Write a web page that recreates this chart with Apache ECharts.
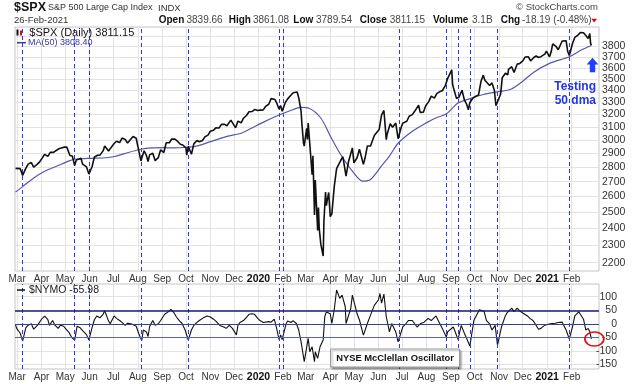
<!DOCTYPE html>
<html><head><meta charset="utf-8">
<script src="https://cdn.jsdelivr.net/npm/echarts@6/dist/echarts.min.js"></script>
<style>html,body{margin:0;padding:0;background:#fff}#c{width:638px;height:384px}</style>
</head><body><div id="c"></div>
<script>
// ---------- data ----------
const monthTicks = ['2019-03-01','2019-04-01','2019-05-01','2019-06-01','2019-07-01','2019-08-01','2019-09-01','2019-10-01','2019-11-01','2019-12-01','2020-01-01','2020-02-01','2020-03-01','2020-04-01','2020-05-01','2020-06-01','2020-07-01','2020-08-01','2020-09-01','2020-10-01','2020-11-01','2020-12-01','2021-01-01','2021-02-01'];
const priceTicks = [2200,2300,2400,2500,2600,2700,2800,2900,3000,3100,3200,3300,3400,3500,3600,3700,3800,3900];
const nymoTicks = [-150,-100,-50,0,50,100];
const signalDates = ['2019-03-08','2019-05-13','2019-05-31','2019-08-06','2019-10-04','2020-01-27','2020-02-01','2020-06-27','2020-08-26','2020-09-10','2020-09-25','2020-10-30','2021-01-29'];

const spxDates = ['2019-02-27','2019-03-01','2019-03-05','2019-03-08','2019-03-12','2019-03-15','2019-03-19','2019-03-22','2019-03-26','2019-03-29','2019-04-02','2019-04-05','2019-04-09','2019-04-12','2019-04-16','2019-04-18','2019-04-23','2019-04-26','2019-04-30','2019-05-03','2019-05-07','2019-05-10','2019-05-13','2019-05-15','2019-05-17','2019-05-21','2019-05-23','2019-05-28','2019-05-31','2019-06-04','2019-06-07','2019-06-11','2019-06-14','2019-06-18','2019-06-20','2019-06-25','2019-06-28','2019-07-02','2019-07-05','2019-07-09','2019-07-12','2019-07-16','2019-07-19','2019-07-23','2019-07-26','2019-07-30','2019-08-01','2019-08-05','2019-08-07','2019-08-09','2019-08-12','2019-08-14','2019-08-16','2019-08-20','2019-08-23','2019-08-27','2019-08-30','2019-09-03','2019-09-06','2019-09-10','2019-09-13','2019-09-17','2019-09-20','2019-09-24','2019-09-27','2019-10-01','2019-10-02','2019-10-04','2019-10-08','2019-10-11','2019-10-15','2019-10-18','2019-10-22','2019-10-25','2019-10-29','2019-11-01','2019-11-05','2019-11-08','2019-11-12','2019-11-15','2019-11-19','2019-11-22','2019-11-27','2019-11-29','2019-12-03','2019-12-06','2019-12-10','2019-12-13','2019-12-17','2019-12-20','2019-12-24','2019-12-27','2019-12-31','2020-01-03','2020-01-07','2020-01-10','2020-01-14','2020-01-17','2020-01-22','2020-01-24','2020-01-27','2020-01-29','2020-01-31','2020-02-04','2020-02-07','2020-02-11','2020-02-14','2020-02-19','2020-02-21','2020-02-24','2020-02-25','2020-02-27','2020-02-28','2020-03-02','2020-03-03','2020-03-04','2020-03-06','2020-03-09','2020-03-10','2020-03-12','2020-03-13','2020-03-16','2020-03-17','2020-03-18','2020-03-20','2020-03-23','2020-03-24','2020-03-26','2020-03-27','2020-03-30','2020-04-01','2020-04-03','2020-04-06','2020-04-09','2020-04-14','2020-04-17','2020-04-21','2020-04-24','2020-04-29','2020-05-01','2020-05-05','2020-05-08','2020-05-13','2020-05-15','2020-05-18','2020-05-22','2020-05-27','2020-05-29','2020-06-02','2020-06-05','2020-06-08','2020-06-11','2020-06-12','2020-06-16','2020-06-19','2020-06-23','2020-06-26','2020-06-30','2020-07-02','2020-07-07','2020-07-10','2020-07-14','2020-07-17','2020-07-22','2020-07-24','2020-07-28','2020-07-31','2020-08-04','2020-08-07','2020-08-11','2020-08-14','2020-08-18','2020-08-21','2020-08-25','2020-08-28','2020-09-02','2020-09-03','2020-09-04','2020-09-08','2020-09-10','2020-09-11','2020-09-15','2020-09-18','2020-09-21','2020-09-23','2020-09-25','2020-09-29','2020-10-02','2020-10-06','2020-10-09','2020-10-12','2020-10-14','2020-10-16','2020-10-20','2020-10-23','2020-10-26','2020-10-28','2020-10-30','2020-11-03','2020-11-05','2020-11-06','2020-11-09','2020-11-12','2020-11-13','2020-11-17','2020-11-20','2020-11-24','2020-11-27','2020-12-01','2020-12-04','2020-12-08','2020-12-11','2020-12-15','2020-12-18','2020-12-21','2020-12-24','2020-12-29','2020-12-31','2021-01-04','2021-01-06','2021-01-08','2021-01-12','2021-01-15','2021-01-20','2021-01-22','2021-01-25','2021-01-27','2021-01-29','2021-02-02','2021-02-05','2021-02-09','2021-02-12','2021-02-16','2021-02-19','2021-02-22','2021-02-24','2021-02-25','2021-02-26'];
const spxClose = [2792,2804,2790,2743,2792,2822,2833,2801,2818,2834,2867,2893,2878,2907,2907,2905,2934,2940,2946,2946,2884,2881,2812,2851,2860,2864,2822,2802,2752,2803,2873,2886,2887,2918,2954,2917,2942,2973,2990,2980,3014,3004,2977,3005,3026,3013,2954,2845,2883,2919,2883,2841,2889,2901,2847,2869,2926,2906,2979,2979,3007,3006,2992,2967,2962,2940,2888,2952,2893,2970,2996,2986,2996,3023,3037,3067,3075,3093,3092,3120,3120,3110,3154,3141,3093,3146,3133,3169,3193,3221,3223,3240,3231,3235,3237,3265,3283,3330,3322,3295,3244,3273,3226,3298,3328,3358,3380,3386,3338,3226,3128,2979,2954,3090,3003,3130,2972,2747,2882,2481,2711,2386,2529,2398,2305,2237,2447,2630,2541,2627,2471,2489,2664,2790,2846,2875,2737,2837,2940,2831,2868,2930,2820,2864,2954,2955,3036,3044,3081,3194,3232,3002,3041,3125,3098,3131,3009,3100,3130,3145,3185,3198,3225,3276,3216,3218,3271,3307,3351,3334,3373,3390,3397,3444,3508,3581,3455,3427,3332,3339,3341,3401,3319,3281,3237,3298,3336,3348,3361,3477,3534,3489,3484,3443,3465,3401,3271,3270,3369,3511,3509,3551,3537,3585,3610,3558,3635,3638,3663,3699,3702,3663,3695,3709,3695,3703,3727,3756,3701,3748,3825,3801,3768,3852,3841,3855,3751,3714,3826,3887,3911,3935,3933,3907,3877,3925,3829,3811];

const maDates = ['2019-02-27','2019-03-08','2019-03-22','2019-04-05','2019-04-22','2019-05-06','2019-05-13','2019-06-03','2019-06-17','2019-07-01','2019-07-15','2019-08-05','2019-08-19','2019-09-03','2019-09-16','2019-10-02','2019-10-16','2019-11-01','2019-11-18','2019-12-02','2019-12-10','2019-12-23','2020-01-08','2020-01-27','2020-02-10','2020-02-24','2020-03-05','2020-03-20','2020-04-01','2020-04-15','2020-04-30','2020-05-12','2020-05-22','2020-06-05','2020-06-15','2020-06-26','2020-07-15','2020-07-31','2020-08-14','2020-08-26','2020-09-10','2020-09-25','2020-10-12','2020-10-30','2020-11-16','2020-12-01','2020-12-15','2021-01-04','2021-01-29','2021-02-12','2021-02-26'];
const maValues = [2630,2666,2725,2772,2812,2845,2857,2864,2866,2875,2898,2930,2940,2942,2940,2945,2955,2987,3020,3040,3051,3090,3140,3195,3230,3257,3250,3171,3030,2884,2765,2704,2715,2810,2880,2975,3070,3130,3175,3203,3293,3330,3365,3388,3410,3480,3560,3640,3702,3760,3808];

const nymoDates = ['2019-02-27','2019-03-01','2019-03-05','2019-03-08','2019-03-12','2019-03-15','2019-03-19','2019-03-22','2019-03-27','2019-04-01','2019-04-05','2019-04-09','2019-04-11','2019-04-15','2019-04-18','2019-04-22','2019-04-25','2019-04-29','2019-05-02','2019-05-06','2019-05-09','2019-05-13','2019-05-16','2019-05-20','2019-05-23','2019-05-28','2019-05-31','2019-06-04','2019-06-07','2019-06-10','2019-06-14','2019-06-18','2019-06-20','2019-06-25','2019-06-27','2019-07-02','2019-07-05','2019-07-09','2019-07-12','2019-07-16','2019-07-19','2019-07-23','2019-07-26','2019-07-30','2019-08-02','2019-08-06','2019-08-08','2019-08-12','2019-08-14','2019-08-16','2019-08-20','2019-08-23','2019-08-27','2019-08-30','2019-09-04','2019-09-09','2019-09-12','2019-09-16','2019-09-19','2019-09-23','2019-09-26','2019-09-30','2019-10-04','2019-10-08','2019-10-11','2019-10-15','2019-10-18','2019-10-23','2019-10-28','2019-11-01','2019-11-05','2019-11-08','2019-11-13','2019-11-18','2019-11-21','2019-11-25','2019-11-29','2019-12-04','2019-12-06','2019-12-09','2019-12-13','2019-12-17','2019-12-20','2019-12-24','2019-12-27','2019-12-31','2020-01-03','2020-01-07','2020-01-09','2020-01-14','2020-01-17','2020-01-21','2020-01-24','2020-01-27','2020-01-29','2020-01-31','2020-02-05','2020-02-07','2020-02-11','2020-02-14','2020-02-18','2020-02-21','2020-02-24','2020-02-28','2020-03-04','2020-03-06','2020-03-09','2020-03-12','2020-03-13','2020-03-16','2020-03-19','2020-03-23','2020-03-25','2020-03-27','2020-04-01','2020-04-03','2020-04-06','2020-04-09','2020-04-13','2020-04-16','2020-04-20','2020-04-21','2020-04-27','2020-04-29','2020-05-05','2020-05-08','2020-05-13','2020-05-18','2020-05-22','2020-05-27','2020-06-01','2020-06-03','2020-06-05','2020-06-08','2020-06-11','2020-06-15','2020-06-18','2020-06-23','2020-06-26','2020-07-02','2020-07-06','2020-07-09','2020-07-14','2020-07-20','2020-07-24','2020-07-29','2020-08-03','2020-08-07','2020-08-13','2020-08-17','2020-08-21','2020-08-26','2020-08-28','2020-09-04','2020-09-10','2020-09-14','2020-09-18','2020-09-25','2020-09-30','2020-10-07','2020-10-09','2020-10-13','2020-10-16','2020-10-20','2020-10-23','2020-10-27','2020-10-30','2020-11-04','2020-11-09','2020-11-11','2020-11-17','2020-11-20','2020-11-24','2020-11-27','2020-12-01','2020-12-07','2020-12-10','2020-12-14','2020-12-18','2020-12-21','2020-12-24','2020-12-29','2020-12-31','2021-01-05','2021-01-07','2021-01-11','2021-01-13','2021-01-15','2021-01-20','2021-01-25','2021-01-29','2021-02-02','2021-02-05','2021-02-10','2021-02-12','2021-02-16','2021-02-19','2021-02-22','2021-02-24','2021-02-26'];
const nymoValues = [-5,-20,-35,-64,-15,-5,0,-20,-5,17,28,15,-6,12,-5,-17,-5,-9,-20,-33,-50,-60,-9,-15,-25,-40,-60,-14,15,29,22,35,48,10,0,29,20,12,5,-6,2,0,-3,-9,-35,-62,-23,-30,-47,-10,12,-5,0,12,35,45,53,40,25,10,2,-23,-60,-23,-6,5,12,22,29,25,17,10,-6,-12,-17,-6,-17,-41,-5,6,12,25,35,37,35,20,12,5,0,8,6,17,-17,-58,-41,-58,0,10,5,11,1,-23,-67,-140,-54,-103,-85,-140,-103,-128,-85,-60,26,44,37,1,51,125,94,106,63,1,57,106,37,14,-42,1,32,69,88,112,76,110,26,-30,1,-30,-67,-11,1,12,12,-12,0,6,20,12,29,6,-17,-49,-29,-12,-58,-6,-35,-82,12,52,55,46,12,0,-23,-6,-79,-12,30,40,58,45,58,48,40,29,20,12,-6,-20,-17,-5,-6,0,6,2,0,5,6,-23,-56,-12,29,44,35,17,-23,-17,-30,-56];

// ---------- chart ----------
const FONT = '"Liberation Sans", Arial, Helvetica, sans-serif';
const MONTHS = ['Jan','Feb','Mar','Apr','May','Jun','Jul','Aug','Sep','Oct','Nov','Dec'];
const ts = s => new Date(s.length > 10 ? s : s + 'T00:00:00').getTime();
const zip = (a, b) => a.map((d, i) => [ts(d), b[i]]);
const xMin = ts('2019-02-26T08:00:00');
const xMax = ts('2021-03-07T16:00:00');
const monthTickTs = monthTicks.map(ts);
const GRID_LINE = '#e3e3e3';

function monthFmt(v) {
  const d = new Date(v);
  return d.getMonth() === 0 ? '{y|' + d.getFullYear() + '}' : MONTHS[d.getMonth()];
}
function xAxisCfg(gi) {
  return {
    type: 'value', gridIndex: gi, min: xMin, max: xMax,
    axisLine: { show: false },
    axisTick: { show: false, customValues: monthTickTs },
    axisLabel: {
      customValues: monthTickTs, formatter: monthFmt, hideOverlap: false,
      showMinLabel: true, showMaxLabel: true,
      color: '#333', fontSize: 10, fontFamily: FONT, margin: 3,
      rich: { y: { fontWeight: 'bold', color: '#111', fontSize: 10.5, fontFamily: FONT } }
    },
    splitLine: { show: true, lineStyle: { color: GRID_LINE, width: 1 } }
  };
}

const sigStyle = { color: '#3030ff', width: 1, type: [4, 3], opacity: 1 };
const sigLines = signalDates.map(d => ({ xAxis: ts(d), lineStyle: sigStyle }));

const chart = echarts.init(document.getElementById('c'), null, { renderer: 'canvas' });
chart.setOption({
  animation: false,
  backgroundColor: '#fff',
  grid: [
    { left: 15, right: 39, top: 27, height: 244, show: true, borderColor: '#c4c4c4', borderWidth: 1, outerBoundsMode: 'none' },
    { left: 15, right: 39, top: 284, height: 85, show: true, borderColor: '#c4c4c4', borderWidth: 1, outerBoundsMode: 'none' }
  ],
  xAxis: [xAxisCfg(0), xAxisCfg(1)],
  yAxis: [
    {
      type: 'log', logBase: 10, gridIndex: 0, position: 'right', min: 2154, max: 3991,
      axisLine: { show: false },
      axisTick: { show: false, customValues: priceTicks },
      axisLabel: { customValues: priceTicks, formatter: v => String(Math.round(v)), color: '#333', fontSize: 10.5, fontFamily: FONT, margin: 3 },
      splitLine: { show: true, lineStyle: { color: GRID_LINE, width: 1 } }
    },
    {
      type: 'value', gridIndex: 1, position: 'right', min: -167, max: 147,
      axisLine: { show: false },
      axisTick: { show: false, customValues: nymoTicks },
      axisLabel: { customValues: nymoTicks, formatter: v => String(Math.round(v)), color: '#333', fontSize: 10.5, fontFamily: FONT, margin: 18, align: 'right' },
      splitLine: { show: true, lineStyle: { color: GRID_LINE, width: 1 } }
    }
  ],
  series: [
    {
      name: 'MA(50)', type: 'line', xAxisIndex: 0, yAxisIndex: 0, data: zip(maDates, maValues),
      showSymbol: false, smooth: 0.3, lineStyle: { color: '#5656b0', width: 1.2 }, z: 2
    },
    {
      name: '$SPX', type: 'line', xAxisIndex: 0, yAxisIndex: 0, data: zip(spxDates, spxClose),
      showSymbol: false, lineStyle: { color: '#111', width: 1.6 }, z: 3,
      markLine: { silent: true, symbol: ['none', 'none'], label: { show: false }, lineStyle: sigStyle, data: sigLines, z: 1 }
    },
    {
      name: '$NYMO', type: 'line', xAxisIndex: 1, yAxisIndex: 1, data: zip(nymoDates, nymoValues),
      showSymbol: false, lineStyle: { color: '#111', width: 1.1 }, z: 3,
      markLine: {
        silent: true, symbol: ['none', 'none'], label: { show: false }, lineStyle: sigStyle,
        data: sigLines.concat([
          { yAxis: 50, lineStyle: { color: '#1b1b78', width: 1.5, type: 'solid' } },
          { yAxis: 0, lineStyle: { color: '#34448c', width: 1.2, type: 'solid' } },
          { yAxis: -50, lineStyle: { color: '#5868a8', width: 1.2, type: 'solid' } }
        ])
      },
      markPoint: {
        silent: true, label: { show: false },
        data: [{ coord: [ts(nymoDates[nymoDates.length - 1]), nymoValues[nymoValues.length - 1]], symbol: 'circle', symbolSize: [19, 14], symbolOffset: [3, 0],
                 itemStyle: { color: 'rgba(0,0,0,0)', borderColor: '#e01010', borderWidth: 1.6 } }]
      }
    }
  ],
  graphic: [
    { type: 'text', style: { x: 14, y: 8, text: '$SPX', fontSize: 12.5, fontWeight: 'bold', fontFamily: FONT, fill: '#111', verticalAlign: 'middle' } },
    { type: 'text', style: { x: 48, y: 8, text: 'S&P 500 Large Cap Index', fontSize: 9, fontFamily: FONT, fill: '#333', verticalAlign: 'middle' } },
    { type: 'text', style: { x: 158, y: 8, text: 'INDX', fontSize: 9.5, fontFamily: FONT, fill: '#333', verticalAlign: 'middle' } },
    { type: 'text', style: { x: 598, y: 7, text: '\u00a9 StockCharts.com', fontSize: 9.5, fontFamily: FONT, fill: '#444', align: 'right', verticalAlign: 'middle' } },
    { type: 'text', style: { x: 14, y: 20.5, text: '26-Feb-2021', fontSize: 9.5, fontFamily: FONT, fill: '#333', verticalAlign: 'middle' } },
    { type: 'text', style: { x: 158.7, y: 20.5, text: 'Open', fontSize: 10, fontWeight: 'bold', fontFamily: FONT, fill: '#111', verticalAlign: 'middle' } },
    { type: 'text', style: { x: 186.5, y: 20.5, text: '3839.66', fontSize: 10, fontFamily: FONT, fill: '#444', verticalAlign: 'middle' } },
    { type: 'text', style: { x: 228.7, y: 20.5, text: 'High', fontSize: 10, fontWeight: 'bold', fontFamily: FONT, fill: '#111', verticalAlign: 'middle' } },
    { type: 'text', style: { x: 253, y: 20.5, text: '3861.08', fontSize: 10, fontFamily: FONT, fill: '#444', verticalAlign: 'middle' } },
    { type: 'text', style: { x: 293.3, y: 20.5, text: 'Low', fontSize: 10, fontWeight: 'bold', fontFamily: FONT, fill: '#111', verticalAlign: 'middle' } },
    { type: 'text', style: { x: 316, y: 20.5, text: '3789.54', fontSize: 10, fontFamily: FONT, fill: '#444', verticalAlign: 'middle' } },
    { type: 'text', style: { x: 359.7, y: 20.5, text: 'Close', fontSize: 10, fontWeight: 'bold', fontFamily: FONT, fill: '#111', verticalAlign: 'middle' } },
    { type: 'text', style: { x: 389.7, y: 20.5, text: '3811.15', fontSize: 10, fontFamily: FONT, fill: '#444', verticalAlign: 'middle' } },
    { type: 'text', style: { x: 433, y: 20.5, text: 'Volume', fontSize: 10, fontWeight: 'bold', fontFamily: FONT, fill: '#111', verticalAlign: 'middle' } },
    { type: 'text', style: { x: 472, y: 20.5, text: '3.1B', fontSize: 10, fontFamily: FONT, fill: '#444', verticalAlign: 'middle' } },
    { type: 'text', style: { x: 500.7, y: 20.5, text: 'Chg', fontSize: 10, fontWeight: 'bold', fontFamily: FONT, fill: '#111', verticalAlign: 'middle' } },
    { type: 'text', style: { x: 522, y: 20.5, text: '-18.19 (-0.48%)', fontSize: 10, fontFamily: FONT, fill: '#444', verticalAlign: 'middle' } },
    { type: 'polygon', shape: { points: [[591.3, 18.8], [597, 18.8], [594.15, 22.6]] }, style: { fill: '#c81010' } },
    { type: 'rect', shape: { x: 16.5, y: 29.5, width: 2, height: 6 }, style: { fill: '#111' }, z: 10 },
    { type: 'rect', shape: { x: 20, y: 30.5, width: 2, height: 5 }, style: { fill: '#d01010' }, z: 10 },
    { type: 'text', z: 10, style: { x: 29.3, y: 32.7, text: '$SPX (Daily) 3811.15', fontSize: 11, fontFamily: FONT, fill: '#111', verticalAlign: 'middle' } },
    { type: 'line', z: 10, shape: { x1: 17, y1: 42.7, x2: 26, y2: 42.7 }, style: { stroke: '#3a3aa0', lineWidth: 1.5 } },
    { type: 'text', z: 10, style: { x: 28, y: 42.7, text: 'MA(50) 3808.40', fontSize: 9, fontFamily: FONT, fill: '#3a3a9a', verticalAlign: 'middle' } },
    { type: 'line', z: 10, shape: { x1: 17, y1: 290, x2: 25, y2: 290 }, style: { stroke: '#111', lineWidth: 1.5 } },
    { type: 'text', z: 10, style: { x: 29, y: 290, text: '$NYMO -55.98', fontSize: 10.5, fontFamily: FONT, fill: '#222', verticalAlign: 'middle' } },
    { type: 'rect', z: 10, shape: { x: 330.5, y: 349, width: 129, height: 18 },
      style: { fill: '#fff', stroke: '#9a9a9a', lineWidth: 1, shadowBlur: 2, shadowOffsetX: 1.5, shadowOffsetY: 1.5, shadowColor: 'rgba(0,0,0,0.35)' } },
    { type: 'text', z: 11, style: { x: 395, y: 358, text: 'NYSE McClellan Oscillator', fontSize: 9.4, fontWeight: 'bold', fontFamily: FONT, fill: '#111', align: 'center', verticalAlign: 'middle' } },
    { type: 'polygon', z: 10, shape: { points: [[592.5, 57.7], [598.3, 64.5], [595.2, 64.5], [595.2, 72.3], [589.8, 72.3], [589.8, 64.5], [586.7, 64.5]] }, style: { fill: '#1f3fff' } },
    { type: 'text', z: 10, style: { x: 596, y: 86.7, text: 'Testing', fontSize: 12, fontWeight: 'bold', fontFamily: FONT, fill: '#2233ee', align: 'right', verticalAlign: 'middle' } },
    { type: 'text', z: 10, style: { x: 596, y: 100.7, text: '50 dma', fontSize: 12, fontWeight: 'bold', fontFamily: FONT, fill: '#2233ee', align: 'right', verticalAlign: 'middle' } }
  ]
});
</script>
</body></html>
